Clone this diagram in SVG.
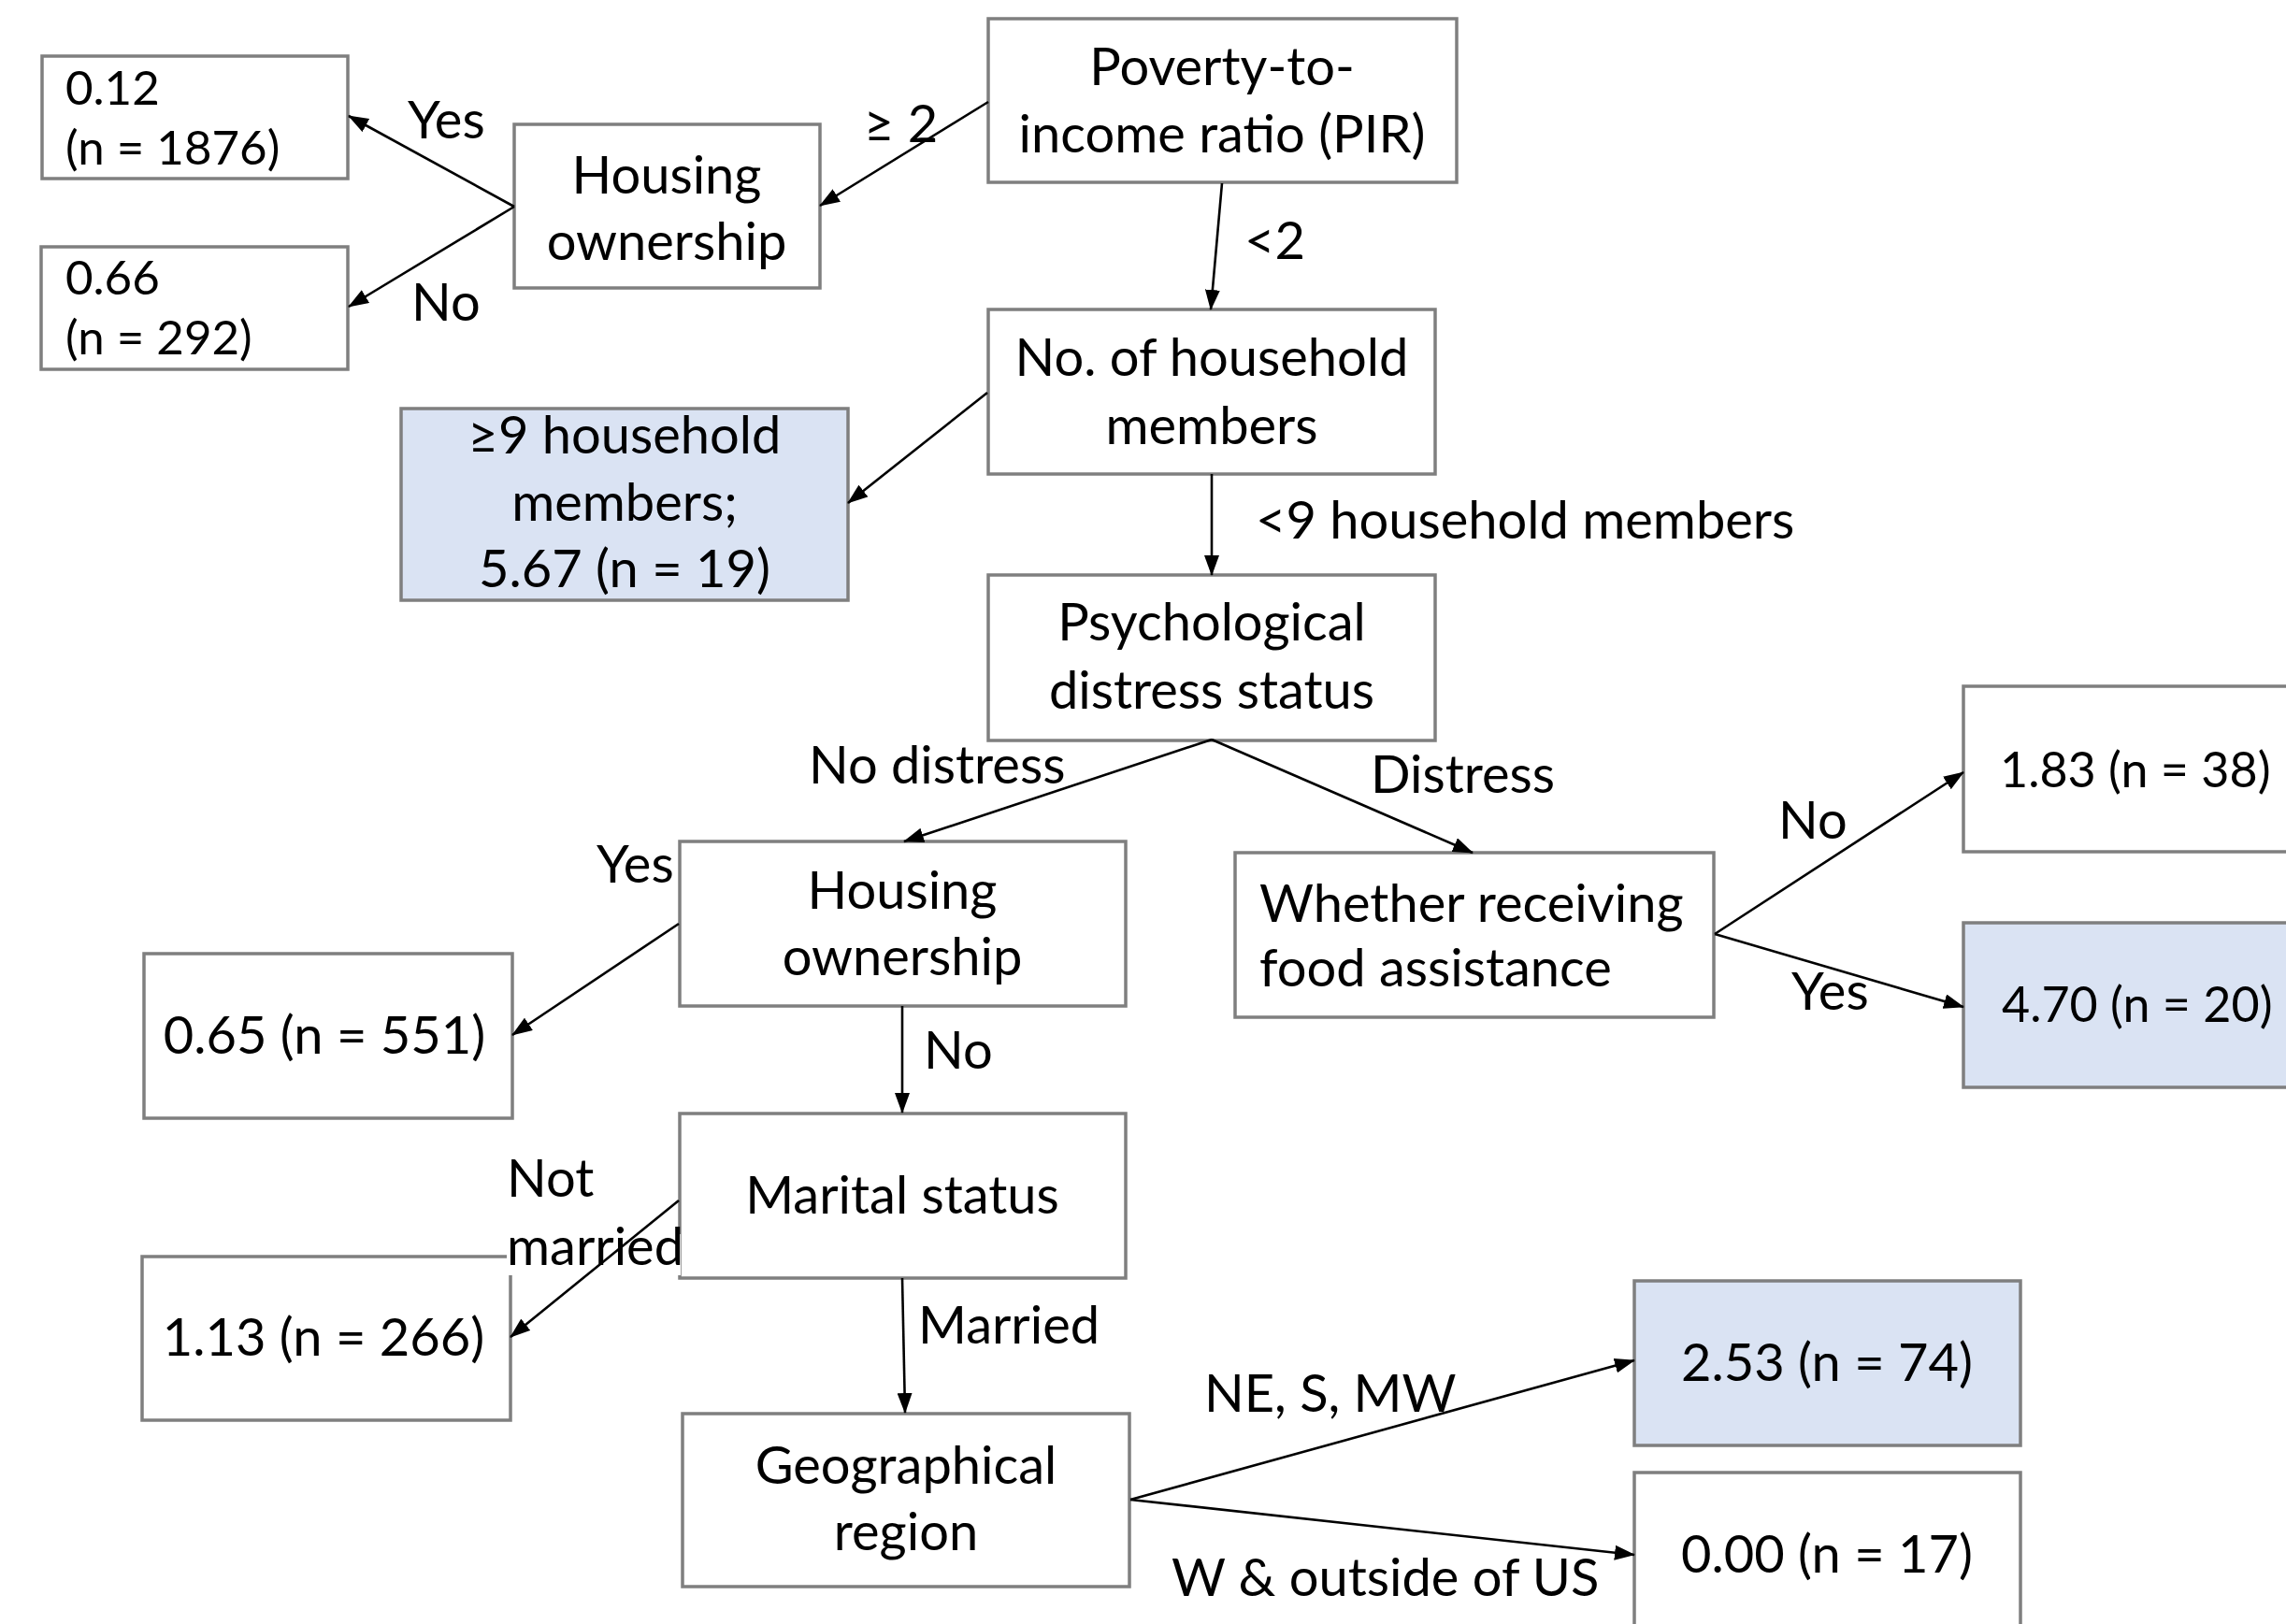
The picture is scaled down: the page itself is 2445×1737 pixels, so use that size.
<svg xmlns="http://www.w3.org/2000/svg" width="2445" height="1737" viewBox="0 0 2445 1737">
<defs>
<style>
.box{fill:#ffffff;stroke:#7f7f7f;stroke-width:3.5}
.hl{fill:#dae3f3}
.t{font-family:Lato,"Open Sans","Liberation Sans",sans-serif;font-size:56px;fill:#000}
.c{text-anchor:middle}
.s{font-size:51px}
.r{font-size:52px}
.e{stroke:#000;stroke-width:2.6;fill:none;marker-end:url(#ah)}
</style>
<marker id="ah" markerUnits="userSpaceOnUse" viewBox="0 0 22 16" markerWidth="22" markerHeight="16" refX="21" refY="8" orient="auto">
<path d="M0,0 L22,8 L0,16 z" fill="#000"/>
</marker>
</defs>
<rect width="2445" height="1737" fill="#fff"/>

<g id="nodes">
<g id="n-pir"><rect class="box" x="1057" y="20" width="501" height="175"/>
<text class="t c" x="1307" y="91">Poverty-to-</text><text class="t c" x="1307" y="163">income ratio (PIR)</text></g>
<g id="n-house1"><rect class="box" x="550" y="133" width="327" height="175"/>
<text class="t c" x="713" y="207">Housing</text><text class="t c" x="713" y="278">ownership</text></g>
<g id="n-012"><rect class="box" x="45" y="60" width="327" height="131"/>
<text class="t s" x="70" y="112">0.12</text><text class="t s" x="70" y="176">(n = 1876)</text></g>
<g id="n-066"><rect class="box" x="44" y="264" width="328" height="131"/>
<text class="t s" x="70" y="315">0.66</text><text class="t s" x="70" y="379">(n = 292)</text></g>
<g id="n-hh"><rect class="box" x="1057" y="331" width="478" height="176"/>
<text class="t c" x="1296" y="402">No. of household</text><text class="t c" x="1296" y="475">members</text></g>
<g id="n-ge9"><rect class="box hl" x="429" y="437" width="478" height="205"/>
<text class="t c" x="668" y="485">≥9 household</text><text class="t c" x="668" y="557">members;</text><text class="t c" x="668" y="628">5.67 (n = 19)</text></g>
<g id="n-psy"><rect class="box" x="1057" y="615" width="478" height="177"/>
<text class="t c" x="1296" y="685">Psychological</text><text class="t c" x="1296" y="758">distress status</text></g>
<g id="n-house2"><rect class="box" x="727" y="900" width="477" height="176"/>
<text class="t c" x="965" y="972">Housing</text><text class="t c" x="965" y="1043">ownership</text></g>
<g id="n-food"><rect class="box" x="1321" y="912" width="512" height="176"/>
<text class="t" x="1347" y="986">Whether receiving</text><text class="t" x="1347" y="1055">food assistance</text></g>
<g id="n-183"><rect class="box" x="2100" y="734" width="360" height="177"/>
<text class="t r" x="2139" y="842">1.83 (n = 38)</text></g>
<g id="n-470"><rect class="box hl" x="2100" y="987" width="360" height="176"/>
<text class="t r" x="2141" y="1093">4.70 (n = 20)</text></g>
<g id="n-065"><rect class="box" x="154" y="1020" width="394" height="176"/>
<text class="t c" x="347" y="1127">0.65 (n = 551)</text></g>
<g id="n-marital"><rect class="box" x="727" y="1191" width="477" height="176"/>
<text class="t c" x="965" y="1298">Marital status</text></g>
<g id="n-113"><rect class="box" x="152" y="1344" width="394" height="175"/>
<text class="t c" x="346" y="1450">1.13 (n = 266)</text></g>
<g id="n-geo"><rect class="box" x="730" y="1512" width="478" height="185"/>
<text class="t c" x="969" y="1587">Geographical</text><text class="t c" x="969" y="1658">region</text></g>
<g id="n-253"><rect class="box hl" x="1748" y="1370" width="413" height="176"/>
<text class="t c" x="1954" y="1477">2.53 (n = 74)</text></g>
<g id="n-000"><rect class="box" x="1748" y="1575" width="413" height="200"/>
<text class="t c" x="1954" y="1682">0.00 (n = 17)</text></g>
</g>

<g id="edge-labels">
<text class="t" x="924" y="152">≥ 2</text>
<text class="t" x="1331" y="277">&lt;2</text>
<text class="t" x="436" y="148">Yes</text>
<text class="t" x="440" y="343">No</text>
<text class="t" x="1343" y="576">&lt;9 household members</text>
<text class="t" x="865" y="838">No distress</text>
<text class="t" x="1466" y="848">Distress</text>
<text class="t" x="638" y="944">Yes</text>
<text class="t" x="988" y="1143">No</text>
<text class="t" x="542" y="1280">Not</text>
<rect x="542" y="1320" width="186" height="44" fill="#fff"/>
<text class="t" x="542" y="1353">married</text>
<text class="t" x="982" y="1437">Married</text>
<text class="t" x="1288" y="1510">NE, S, MW</text>
<text class="t" x="1253" y="1707">W &amp; outside of US</text>
<text class="t" x="1902" y="897">No</text>
<text class="t" x="1916" y="1080">Yes</text>
</g>

<g id="connectors">
<line class="e" x1="1057" y1="109" x2="877" y2="220"/>
<line class="e" x1="1307" y1="196" x2="1295" y2="331"/>
<line class="e" x1="550" y1="221" x2="373" y2="124"/>
<line class="e" x1="550" y1="221" x2="373" y2="328"/>
<line class="e" x1="1056" y1="420" x2="907" y2="538"/>
<line class="e" x1="1296" y1="507" x2="1296" y2="615"/>
<line class="e" x1="1296" y1="791" x2="967" y2="900"/>
<line class="e" x1="1296" y1="791" x2="1575" y2="912"/>
<line class="e" x1="726" y1="988" x2="548" y2="1107"/>
<line class="e" x1="965" y1="1076" x2="965" y2="1190"/>
<line class="e" x1="726" y1="1284" x2="546" y2="1430"/>
<line class="e" x1="965" y1="1367" x2="968" y2="1511"/>
<line class="e" x1="1209" y1="1604" x2="1748" y2="1455"/>
<line class="e" x1="1209" y1="1604" x2="1748" y2="1663"/>
<line class="e" x1="1834" y1="999" x2="2100" y2="826"/>
<line class="e" x1="1834" y1="999" x2="2100" y2="1077"/>
</g>
</svg>
